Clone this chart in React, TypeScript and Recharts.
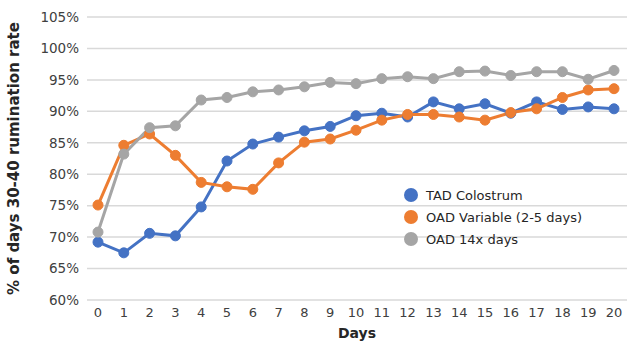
import { LineChart, Line, XAxis, YAxis, CartesianGrid, Legend } from "recharts"

const days = [0, 1, 2, 3, 4, 5, 6, 7, 8, 9, 10, 11, 12, 13, 14, 15, 16, 17, 18, 19, 20]
const tadColostrum = [69.2, 67.5, 70.6, 70.2, 74.8, 82.1, 84.8, 85.9, 86.9, 87.6, 89.3, 89.7, 89.1, 91.5, 90.4, 91.2, 89.7, 91.5, 90.3, 90.7, 90.4]
const oadVariable = [75.1, 84.6, 86.4, 83.0, 78.7, 78.0, 77.6, 81.8, 85.1, 85.6, 87.0, 88.6, 89.5, 89.5, 89.1, 88.6, 89.8, 90.4, 92.2, 93.4, 93.6]
const oad14 = [70.8, 83.2, 87.4, 87.7, 91.8, 92.2, 93.1, 93.4, 93.9, 94.6, 94.4, 95.2, 95.5, 95.2, 96.3, 96.4, 95.7, 96.3, 96.3, 95.1, 96.5]
const yTicks = [60, 65, 70, 75, 80, 85, 90, 95, 100, 105]

const series = [
  { key: "tad", name: "TAD Colostrum", color: "#4472C4" },
  { key: "oadVar", name: "OAD Variable (2-5 days)", color: "#ED7D31" },
  { key: "oad14", name: "OAD 14x days", color: "#A5A5A5" },
]

const data = days.map((d, i) => ({
  day: d,
  tad: tadColostrum[i],
  oadVar: oadVariable[i],
  oad14: oad14[i],
}))

const font = "'DejaVu Sans', sans-serif"

function LegendBox() {
  return (
    <div style={{ fontFamily: font, fontSize: 13, color: "#262626" }}>
      {series.map((s) => (
        <div key={s.key} style={{ display: "flex", alignItems: "center", height: 22 }}>
          <span
            style={{
              width: 14,
              height: 14,
              borderRadius: 7,
              background: s.color,
              display: "inline-block",
              marginRight: 8,
            }}
          />
          {s.name}
        </div>
      ))}
    </div>
  )
}

export default function App() {
  return (
    <div style={{ position: "absolute", left: 0, top: 0, background: "#fff" }}>
      <LineChart width={631} height={346} data={data} margin={{ top: 17, right: 4, left: 0, bottom: 16 }}>
        <CartesianGrid vertical={false} stroke="#d9d9d9" strokeWidth={1.5} />
        <XAxis
          dataKey="day"
          type="number"
          domain={[0, 20]}
          ticks={days}
          interval={0}
          padding={{ left: 11, right: 13 }}
          axisLine={false}
          tickLine={false}
          height={30}
          tick={{ fontFamily: font, fontSize: 13, fill: "#404040" }}
          label={{ value: "Days", position: "insideBottom", offset: -8, fontFamily: font, fontSize: 14, fontWeight: "bold", fill: "#262626" }}
        />
        <YAxis
          domain={[60, 105]}
          ticks={yTicks}
          interval={0}
          width={87}
          axisLine={false}
          tickLine={false}
          tickFormatter={(v) => `${v}%`}
          tick={{ fontFamily: font, fontSize: 13.5, fill: "#404040" }}
          label={{
            value: "% of days 30-40 rumination rate",
            angle: -90,
            position: "insideLeft",
            offset: 14,
            style: { textAnchor: "middle" },
            fontFamily: font,
            fontSize: 15,
            fontWeight: "bold",
            fill: "#262626",
          }}
        />
        <Legend
          layout="horizontal"
          verticalAlign="middle"
          align="center"
          wrapperStyle={{ left: 404, top: 184, width: 220 }}
          content={() => <LegendBox />}
        />
        {series.map((s) => (
          <Line
            key={s.key}
            type="linear"
            dataKey={s.key}
            name={s.name}
            stroke={s.color}
            strokeWidth={3}
            dot={{ r: 5, fill: s.color, stroke: s.color, strokeWidth: 1 }}
            isAnimationActive={false}
          />
        ))}
      </LineChart>
    </div>
  )
}
